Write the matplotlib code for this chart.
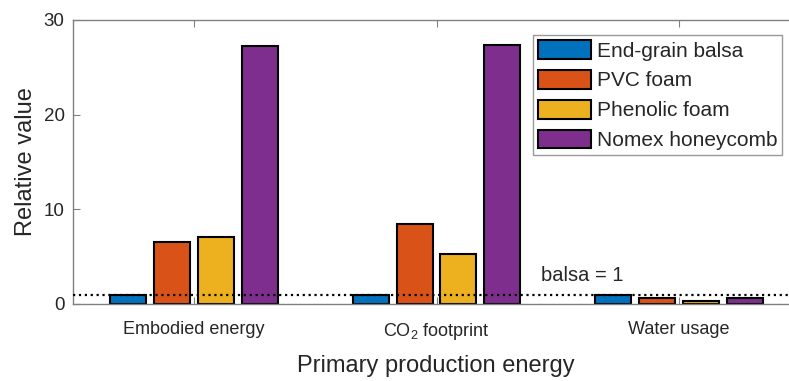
import numpy as np
import matplotlib.pyplot as plt

plt.rcParams['font.family'] = ['Liberation Sans', 'DejaVu Sans']
plt.rcParams['mathtext.default'] = 'regular'

categories = ['Embodied energy', 'CO$_2$ footprint', 'Water usage']
materials = ['End-grain balsa', 'PVC foam', 'Phenolic foam', 'Nomex honeycomb']
balsa = [1.0, 1.0, 1.0]
pvc = [6.6, 8.5, 0.6]
phenolic = [7.1, 5.3, 0.3]
nomex = [27.3, 27.4, 0.6]
colors = ['#0072BD', '#D95319', '#EDB120', '#7E2F8E']

W, H = 789, 381
fig = plt.figure(figsize=(W / 100, H / 100), dpi=100)
# axes runs a little past the right edge, like the cropped original
ax = fig.add_axes([73 / W, (H - 304) / H, (800 - 73) / W, (304 - 20) / H])

x = np.arange(1, 4)
step = 0.181
width = 0.148
series = [balsa, pvc, phenolic, nomex]
for i, (vals, name, c) in enumerate(zip(series, materials, colors)):
    ax.bar(x + (i - 1.5) * step, vals, width, color=c, edgecolor='black',
           linewidth=1.5, label=name, zorder=2)

ax.axhline(1, color='black', linestyle=':', linewidth=1.6, zorder=3)
ax.text(2.43, 3.0, 'balsa = 1', fontsize=14.5, color='#262626', va='center')

ax.set_xlim(0.5, 3.5)
ax.set_ylim(0, 30)
ax.set_xticks(x)
ax.set_xticklabels(categories)
ax.set_yticks([0, 10, 20, 30])

grey = '#808080'
for s in ['left', 'bottom', 'top', 'right']:
    ax.spines[s].set_color(grey)
    ax.spines[s].set_linewidth(1.0)
ax.tick_params(direction='in', length=5, color=grey, labelcolor='#262626',
               labelsize=13.5, top=True, right=True, pad=6)
ax.tick_params(axis='x', labelsize=13, pad=12)

ax.set_ylabel('Relative value', fontsize=17, color='#262626')
ax.yaxis.set_label_coords((37 - 73) / 727, 0.5)
fig.text(435.5 / W, 1 - 366 / H, 'Primary production energy', ha='center',
         va='center', fontsize=17, color='#262626')

leg = ax.legend(loc='upper left', bbox_to_anchor=((533 - 73) / 727, 1 - 15 / 284),
                fontsize=15, frameon=True, fancybox=False, handlelength=2.55,
                handleheight=1.0, handletextpad=0.25, labelspacing=0.45,
                borderpad=0.25, borderaxespad=0)
leg.get_frame().set_edgecolor(grey)
leg.get_frame().set_linewidth(1.0)
for t in leg.get_texts():
    t.set_color('#262626')

fig.savefig('out.png', dpi=100)
